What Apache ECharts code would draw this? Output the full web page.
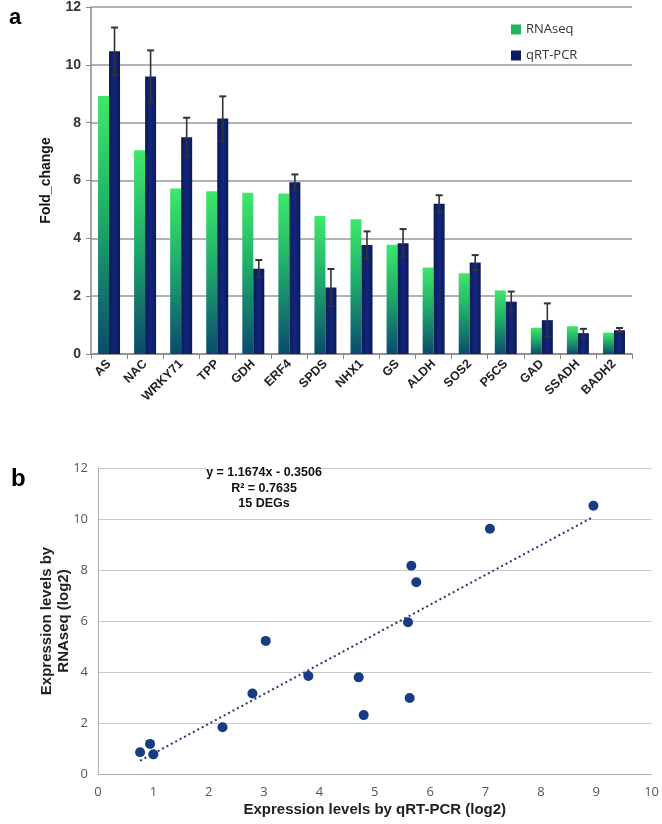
<!DOCTYPE html>
<html><head><meta charset="utf-8">
<script src="https://cdn.jsdelivr.net/npm/echarts@6/dist/echarts.min.js"></script>
<style>html,body{margin:0;padding:0;background:#fff}#c{width:662px;height:824px}</style>
</head><body><div id="c"></div>
<script>
var genes = ['AS','NAC','WRKY71','TPP','GDH','ERF4','SPDS','NHX1','GS','ALDH','SOS2','P5CS','GAD','SSADH','BADH2'];
var rnaseq = [8.92, 7.05, 5.72, 5.63, 5.58, 5.55, 4.77, 4.66, 3.78, 2.99, 2.79, 2.2, 0.91, 0.96, 0.74];
var qpcr = [10.47, 9.6, 7.5, 8.14, 2.95, 5.94, 2.3, 3.77, 3.83, 5.2, 3.16, 1.81, 1.17, 0.72, 0.82];
var qpcrErr = [0.82, 0.9, 0.67, 0.77, 0.3, 0.27, 0.64, 0.47, 0.49, 0.29, 0.26, 0.35, 0.58, 0.15, 0.08];
var barTicks = [0, 2, 4, 6, 8, 10, 12];

var scatterPts = [[0.76,0.85],[0.94,1.18],[1.0,0.77],[2.25,1.83],[2.79,3.16],[3.03,5.22],[3.8,3.84],[4.71,3.79],[4.8,2.31],[5.63,2.98],[5.6,5.95],[5.66,8.17],[5.75,7.52],[7.08,9.62],[8.95,10.52]];
var trendPts = [[0.76,0.52],[8.92,10.05]];
var eqLines = ['y = 1.1674x - 0.3506', 'R² = 0.7635', '15 DEGs'];

var BW = 11;
var chart = echarts.init(document.getElementById('c'), null, {renderer:'canvas'});
var errData = genes.map(function(g,i){return [i, qpcr[i]-qpcrErr[i], qpcr[i]+qpcrErr[i]];});
var option = {
  animation:false,
  textStyle:{fontFamily:'Liberation Sans, Arial, sans-serif'},
  title:[
    {text:'a', left:4, top:2, textStyle:{fontSize:22, fontWeight:'bold', color:'#000'}},
    {text:'b', left:6, top:462, textStyle:{fontSize:24, fontWeight:'bold', color:'#000'}}
  ],
  legend:{
    left:506, top:18, orient:'vertical', itemGap:13, itemWidth:10, itemHeight:10, icon:'rect',
    data:[{name:'RNAseq', itemStyle:{color:'#23b35d'}},{name:'qRT-PCR', itemStyle:{color:'#0b1d5c'}}],
    textStyle:{fontSize:13, color:'#333', fontFamily:'Open Sans, sans-serif'}
  },
  grid:[
    {left:91, right:30, top:7, height:347},
    {left:98, top:468, width:554, height:306}
  ],
  xAxis:[
    {type:'category', gridIndex:0, data:genes,
     axisLine:{lineStyle:{color:'#888', width:1.5}},
     axisTick:{show:true, length:5, lineStyle:{color:'#888'}},
     axisLabel:{rotate:45, fontSize:12.5, fontWeight:'bold', color:'#222', margin:8, interval:0}},
    {type:'value', gridIndex:1, min:0, max:10, interval:1,
     name:'Expression levels by qRT-PCR (log2)', nameLocation:'middle', nameGap:28,
     nameTextStyle:{fontSize:15, fontWeight:'bold', color:'#222'},
     axisLine:{lineStyle:{color:'#b0b0b0'}}, axisTick:{show:false},
     splitLine:{show:false},
     axisLabel:{fontSize:13, color:'#555', fontFamily:'Open Sans, sans-serif', margin:12}}
  ],
  yAxis:[
    {type:'value', gridIndex:0, min:0, max:12, interval:2,
     name:'Fold_change', nameLocation:'middle', nameGap:38,
     nameTextStyle:{fontSize:14, fontWeight:'bold', color:'#111'},
     axisLine:{show:true, lineStyle:{color:'#888', width:1.5}},
     axisTick:{show:true, length:5, lineStyle:{color:'#888'}},
     splitLine:{lineStyle:{color:'#999', width:1.5}},
     axisLabel:{fontSize:14, fontWeight:'bold', color:'#333', margin:10}},
    {type:'value', gridIndex:1, min:0, max:12, interval:2,
     name:'Expression levels by\nRNAseq (log2)', nameLocation:'middle', nameGap:26, nameMoveOverlap:false,
     nameTextStyle:{fontSize:15, fontWeight:'bold', color:'#222', lineHeight:17},
     axisLine:{show:true, lineStyle:{color:'#b0b0b0'}}, axisTick:{show:false},
     splitLine:{lineStyle:{color:'#c8c8c8'}},
     axisLabel:{fontSize:13, color:'#555', fontFamily:'Open Sans, sans-serif', margin:10}}
  ],
  graphic:[{
    type:'text', z:100,
    style:{text:eqLines.join('\n'), x:264, y:465, textAlign:'center', fontSize:12.5, fontWeight:'bold', lineHeight:15.5, fill:'#111', backgroundColor:'#fff', fontFamily:'Liberation Sans, Arial, sans-serif'}
  }],
  series:[
    {name:'RNAseq', type:'bar', xAxisIndex:0, yAxisIndex:0, data:rnaseq, barWidth:BW, barGap:'0%',
     itemStyle:{color:new echarts.graphic.LinearGradient(0,0,0,1,[{offset:0,color:'#3fe86b'},{offset:0.45,color:'#1fae6a'},{offset:1,color:'#0b4a6e'}])}},
    {name:'qRT-PCR', type:'bar', xAxisIndex:0, yAxisIndex:0, data:qpcr, barWidth:BW, barGap:'0%',
     itemStyle:{color:new echarts.graphic.LinearGradient(0,0,1,0,[{offset:0,color:'#0a1a55'},{offset:0.5,color:'#12267e'},{offset:1,color:'#0a1a55'}])}},
    {type:'custom', xAxisIndex:0, yAxisIndex:0, data:errData, z:5,
     renderItem:function(params, api){
       var lo = api.coord([api.value(0), api.value(1)]);
       var hi = api.coord([api.value(0), api.value(2)]);
       var x = lo[0] + BW/2;
       var cap = 3.5;
       var st = {stroke:'#333', lineWidth:1.6};
       return {type:'group', children:[
         {type:'line', shape:{x1:x, y1:lo[1], x2:x, y2:hi[1]}, style:st},
         {type:'line', shape:{x1:x-cap, y1:hi[1], x2:x+cap, y2:hi[1]}, style:{stroke:'#333', lineWidth:2}},
         {type:'line', shape:{x1:x-cap, y1:lo[1], x2:x+cap, y2:lo[1]}, style:{stroke:'#333', lineWidth:1.5}}
       ]};
     }},
    {type:'line', xAxisIndex:1, yAxisIndex:1, data:trendPts, symbol:'none', z:3,
     lineStyle:{color:'#1f3a6b', width:2, type:[2,3]}},
    {type:'scatter', xAxisIndex:1, yAxisIndex:1, data:scatterPts, symbolSize:10, z:4,
     itemStyle:{color:'#173c84', opacity:1}}
  ]
};
chart.setOption(option);
</script></body></html>
